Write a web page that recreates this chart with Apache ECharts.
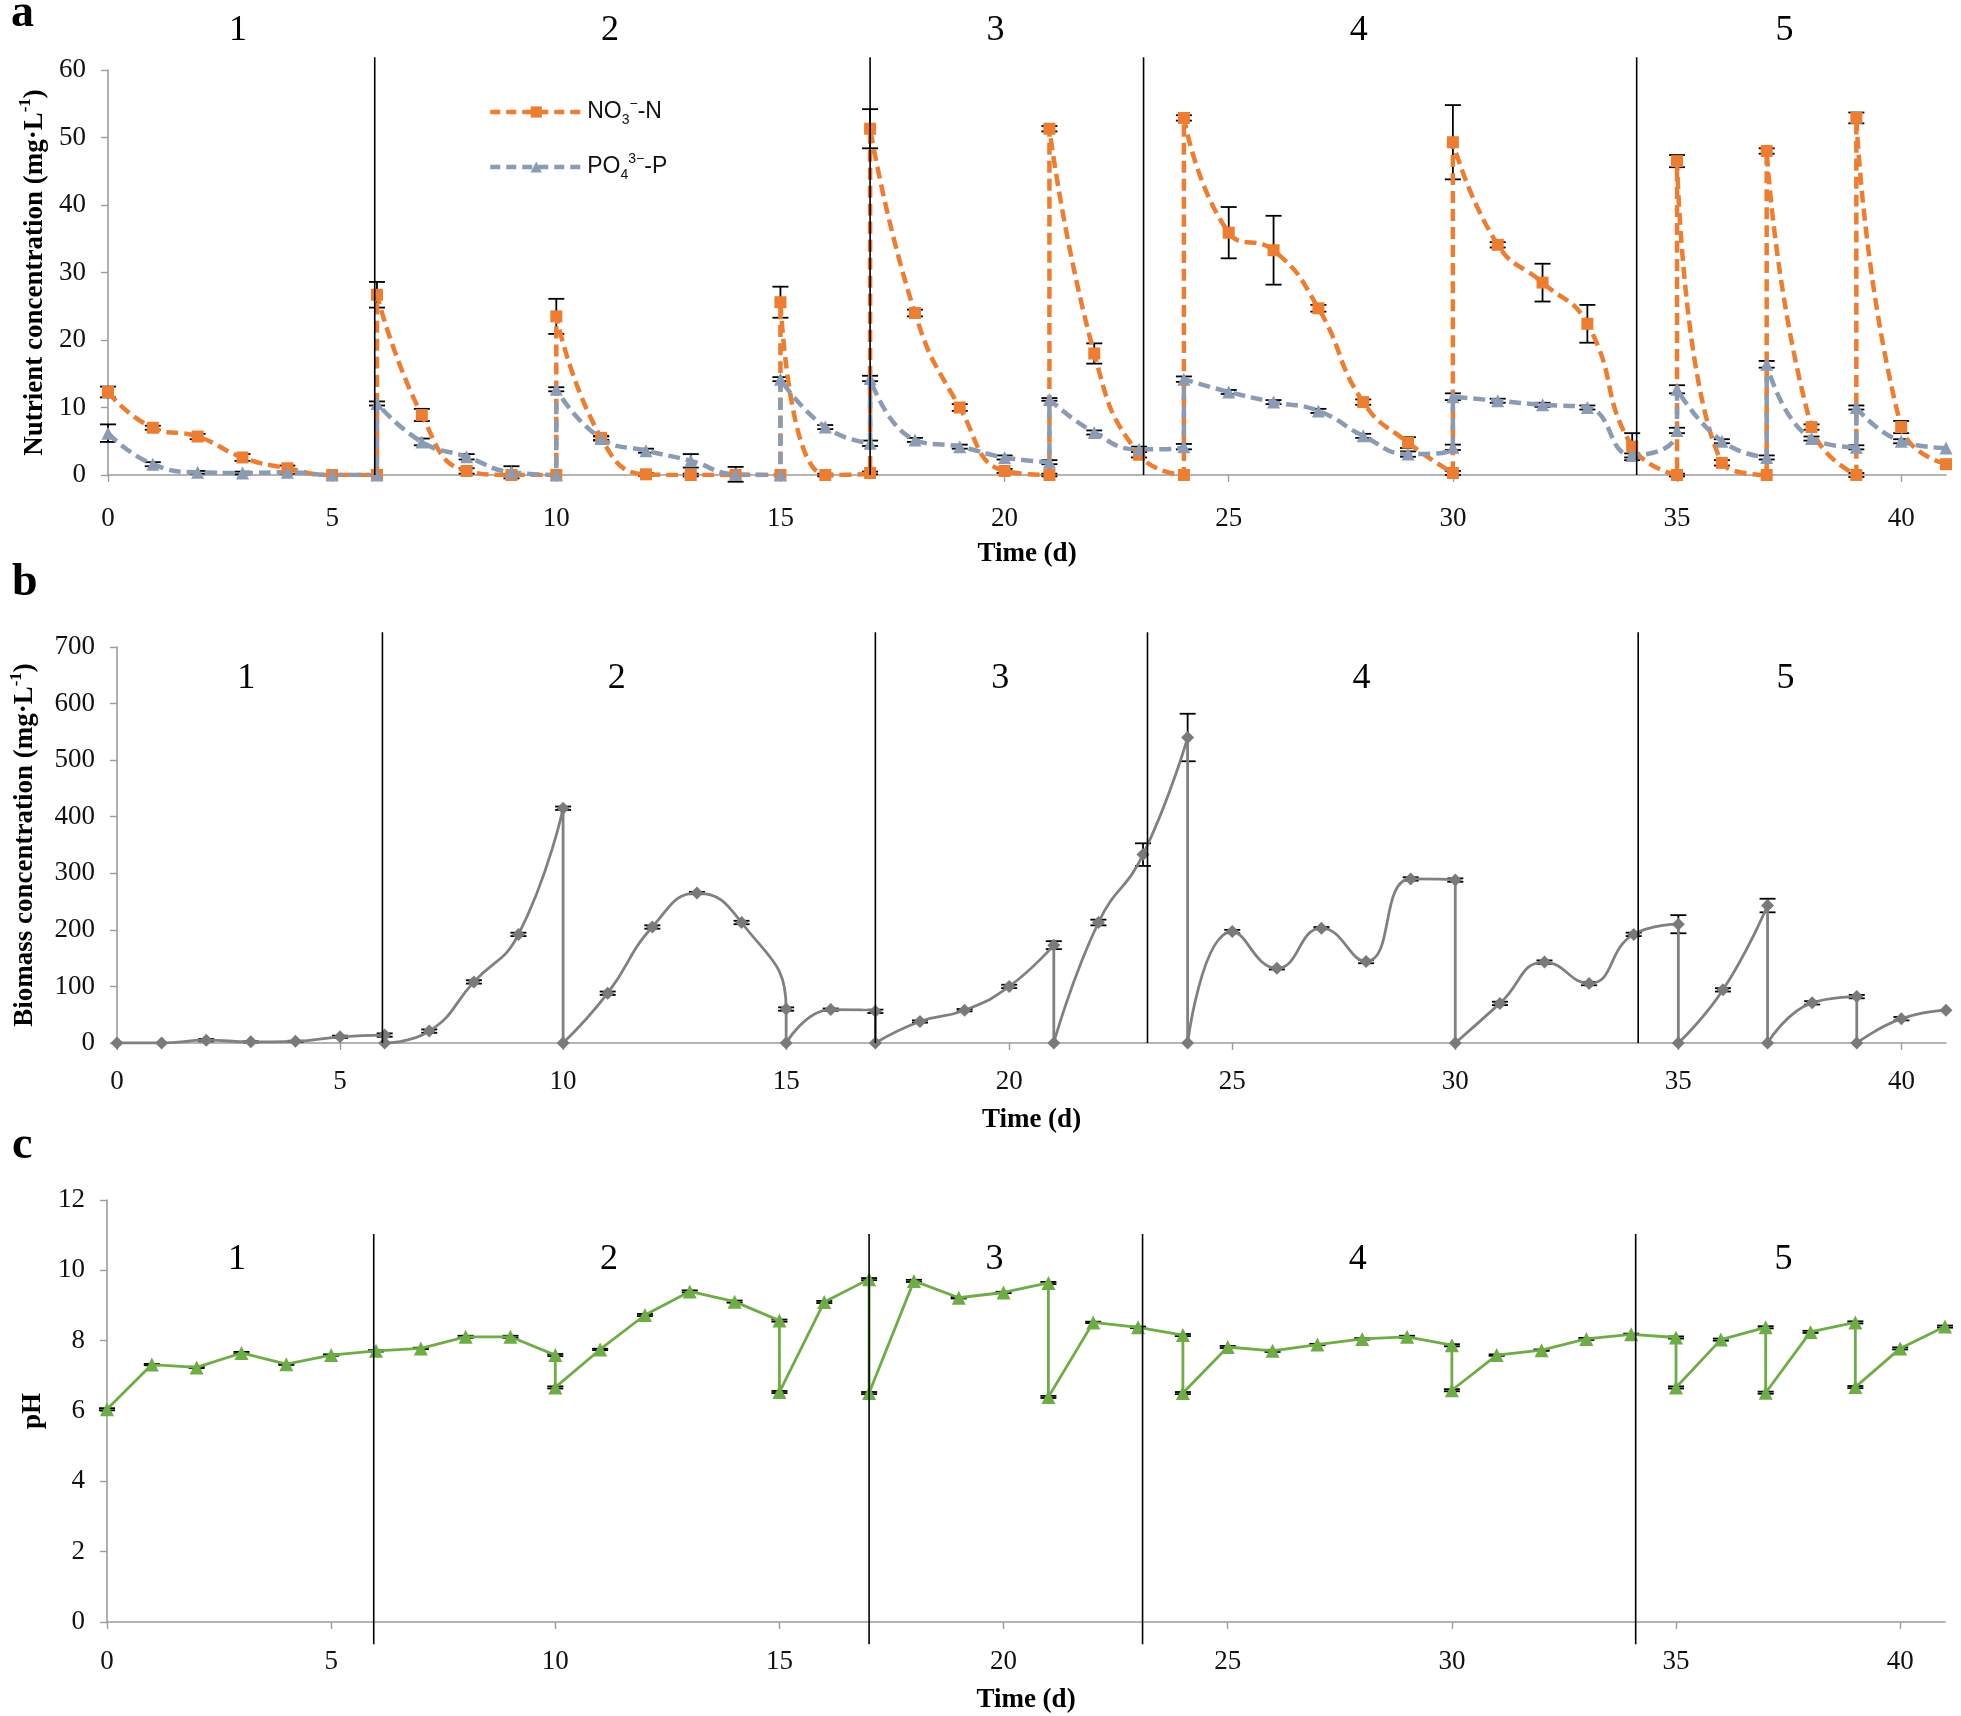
<!DOCTYPE html>
<html><head><meta charset="utf-8">
<script src="https://cdn.jsdelivr.net/npm/echarts@6/dist/echarts.min.js"></script>
<style>html,body{margin:0;padding:0;background:#fff}#c{width:1961px;height:1716px}</style>
</head><body><div id="c"></div>
<script>
// ---------- data ----------
const stageBounds = [5.95, 17, 23.1, 34.1];
const stageLabels = ['1', '2', '3', '4', '5'];
const stageLabelX = [2.9, 11.2, 19.8, 27.9, 37.4];
const xTicks = [0, 5, 10, 15, 20, 25, 30, 35, 40];

const sampleDays = [0,1,2,3,4,5,6,6,7,8,9,10,10,11,12,13,14,15,15,16,17,17,18,19,20,21,21,22,23,24,24,25,26,27,28,29,30,30,31,32,33,34,35,35,36,37,37,38,39,39,40,41];

const no3Vals = [12.3,7.0,5.7,2.6,1.0,0,0,26.7,8.9,0.6,0,0,23.5,5.5,0.1,0,0,0,25.6,0,0.3,51.3,24.0,10.0,0.6,0,51.3,18.0,3.0,0,52.9,35.9,33.3,24.7,10.8,4.8,0.3,49.3,34.1,28.5,22.4,4.2,0,46.5,1.8,0,48.0,7.1,0,52.9,7.1,1.6];
const no3Sd   = [0.8,0.3,0.4,0.5,0.4,0,0,1.9,0.9,0.4,0,0,2.6,0.3,0.2,0.2,0,0,2.3,0.2,0.2,2.9,0.5,0.5,0.3,0.2,0.4,1.5,0.4,0,0.4,3.8,5.1,0.5,0.4,0.8,0.3,5.5,0.4,2.8,2.8,2.0,0.2,0.9,0.4,0,0.4,0.4,0.3,0.8,0.9,0];

const po4Vals = [6.2,1.6,0.4,0.3,0.4,0,0,10.6,4.9,2.7,0.4,0,12.7,5.4,3.6,2.1,0.1,0,14.2,7.1,4.7,14.3,5.2,4.2,2.6,1.9,11.2,6.3,3.8,4.2,14.2,12.3,10.8,9.5,5.8,3.1,4.1,11.6,11.0,10.4,10.0,2.9,6.6,12.7,5.0,2.6,16.4,5.4,4.1,10.0,5.0,4.0];
const po4Sd   = [1.3,0.3,0.2,0.2,0.2,0,0,0.3,0.5,0.4,0.9,0,0.3,0.3,0.3,1.0,1.1,0,0.3,0.3,0.4,0.4,0.3,0.3,0.3,0.3,0.2,0.3,0.4,0.4,0.4,0.3,0.3,0.3,0.3,0.4,0.4,0.5,0.3,0.3,0.3,0.3,0.4,0.6,0.3,0.3,0.5,0.3,0.3,0.3,0.3,0];

const biomassVals = [0,0,5,2,3,11,14,0,21,108,192,415,0,88,205,265,213,60,0,59,56,0,38,58,100,173,0,213,333,540,0,197,132,203,144,290,288,0,70,143,105,192,210,0,94,243,0,71,82,0,43,58];
const biomassSd   = [0,0,2,1,1,2,3,0,3,3,3,3,0,3,3,2,3,3,0,2,3,0,2,2,3,7,0,5,20,42,0,3,2,2,3,3,3,0,3,3,3,3,16,0,3,12,0,3,3,0,3,0];

const phDays = [0,1,2,3,4,5,6,7,8,9,10,10,11,12,13,14,15,15,16,17,17,18,19,20,21,21,22,23,24,24,25,26,27,28,29,30,30,31,32,33,34,35,35,36,37,37,38,39,39,40,41];
const phVals = [6.05,7.32,7.24,7.65,7.33,7.59,7.71,7.78,8.11,8.11,7.59,6.67,7.75,8.73,9.40,9.11,8.57,6.54,9.10,9.75,6.51,9.70,9.22,9.37,9.64,6.40,8.52,8.38,8.16,6.51,7.82,7.71,7.89,8.05,8.11,7.87,6.59,7.59,7.73,8.05,8.18,8.09,6.67,8.03,8.38,6.52,8.25,8.52,6.68,7.78,8.40];
const phSd   = [0.03,0.02,0.02,0.03,0.02,0.02,0.02,0.02,0.03,0.03,0.03,0.03,0.02,0.03,0.03,0.03,0.03,0.03,0.03,0.03,0.03,0.03,0.02,0.02,0.03,0.03,0.02,0.02,0.03,0.03,0.03,0.03,0.02,0.02,0.03,0.03,0.03,0.02,0.02,0.03,0.02,0.03,0.03,0.03,0.03,0.03,0.03,0.03,0.03,0.03,0.03];

// ---------- helpers ----------
const SERIF = '"Liberation Serif", "Times New Roman", serif';
const SANS = '"Liberation Sans", Arial, sans-serif';
const AXIS_GRAY = '#9c9c9c';

function pairs(xs, ys) { return xs.map((x, i) => [x, ys[i]]); }

function vlines(gi, yTop, yBot) {
  return {
    type: 'custom', xAxisIndex: gi, yAxisIndex: gi, clip: false, silent: true, z: 6,
    data: stageBounds.map(v => [v, 0]), encode: { x: 0, y: 1 },
    renderItem(params, api) {
      const a = api.coord([api.value(0), yTop]);
      const b = api.coord([api.value(0), yBot]);
      return { type: 'line', shape: { x1: a[0], y1: a[1], x2: b[0], y2: b[1] },
        style: { stroke: '#000', lineWidth: 1.6 } };
    }
  };
}
function stageText(gi, yVal) {
  return {
    type: 'custom', xAxisIndex: gi, yAxisIndex: gi, clip: false, silent: true, z: 6,
    data: stageLabelX.map(v => [v, 0]), encode: { x: 0, y: 1 },
    renderItem(params, api) {
      const p = api.coord([api.value(0), yVal]);
      return { type: 'text', x: p[0], y: p[1],
        style: { text: stageLabels[params.dataIndex], font: '36px ' + SERIF, fill: '#000',
          align: 'center', verticalAlign: 'middle' } };
    }
  };
}
function errBars(gi, xs, ys, sds) {
  const data = [];
  xs.forEach((x, i) => { if (sds[i] > 0) data.push([x, ys[i] - sds[i], ys[i] + sds[i]]); });
  return {
    type: 'custom', xAxisIndex: gi, yAxisIndex: gi, clip: false, silent: true, z: 2,
    data, encode: { x: 0, y: [1, 2] },
    renderItem(params, api) {
      const lo = api.coord([api.value(0), api.value(1)]);
      const hi = api.coord([api.value(0), api.value(2)]);
      const w = 8;
      const st = { stroke: '#000', lineWidth: 1.8 };
      return { type: 'group', children: [
        { type: 'line', shape: { x1: lo[0], y1: lo[1], x2: hi[0], y2: hi[1] }, style: st },
        { type: 'line', shape: { x1: lo[0] - w, y1: lo[1], x2: lo[0] + w, y2: lo[1] }, style: st },
        { type: 'line', shape: { x1: hi[0] - w, y1: hi[1], x2: hi[0] + w, y2: hi[1] }, style: st }
      ] };
    }
  };
}
function xAx(gi, gap, margin) {
  return {
    type: 'value', gridIndex: gi, min: 0, max: 41, interval: 5,
    axisLine: { show: true, onZero: false, lineStyle: { color: AXIS_GRAY, width: 1.6 } },
    axisTick: { show: true, length: 7, customValues: xTicks, lineStyle: { color: AXIS_GRAY, width: 1.4 } },
    axisLabel: { customValues: xTicks, margin, fontSize: 27, fontFamily: SERIF, color: '#111' },
    splitLine: { show: false },
    name: 'Time (d)', nameLocation: 'middle', nameGap: gap,
    nameTextStyle: { fontSize: 27, fontWeight: 'bold', fontFamily: SERIF, color: '#000' }
  };
}
function yAx(gi, max, interval, name, gap) {
  return {
    type: 'value', gridIndex: gi, min: 0, max, interval,
    axisLine: { show: true, lineStyle: { color: AXIS_GRAY, width: 1.6 } },
    axisTick: { show: true, length: 7, lineStyle: { color: AXIS_GRAY, width: 1.4 } },
    axisLabel: { margin: 22, fontSize: 27, fontFamily: SERIF, color: '#111' },
    splitLine: { show: false },
    name, nameLocation: 'middle', nameGap: gap,
    nameTextStyle: { fontSize: 27, fontWeight: 'bold', fontFamily: SERIF, color: '#000',
      rich: {
        t: { fontSize: 27, fontWeight: 'bold', fontFamily: SERIF, color: '#000', lineHeight: 34 },
        s: { fontSize: 17, fontWeight: 'bold', fontFamily: SERIF, color: '#000', lineHeight: 17, verticalAlign: 'top' }
      } }
  };
}

const legendText = {
  'NO3-N': '{n|NO}{sb|3}{sp|−}{n|-N}',
  'PO4-P': '{n|PO}{sb|4}{sp|3−}{n|-P}'
};
const legendRich = {
  n: { fontSize: 23, fontFamily: SANS, color: '#111', lineHeight: 30 },
  sb: { fontSize: 14, fontFamily: SANS, color: '#111', lineHeight: 16, verticalAlign: 'bottom' },
  sp: { fontSize: 14, fontFamily: SANS, color: '#111', lineHeight: 16, verticalAlign: 'top' }
};
function legendFor(name, top) {
  return {
    data: [name], left: 488, top, orient: 'vertical', padding: 0,
    itemWidth: 92, itemHeight: 14, selectedMode: false,
    lineStyle: { width: 4.5, type: [10, 6] },
    formatter: n => legendText[n], textStyle: { rich: legendRich }
  };
}

const ORANGE = '#ED7D31';
const BLUEGRAY = '#8A9BB3';
const GREEN = '#6EAC45';

const chart = echarts.init(document.getElementById('c'), null, { renderer: 'canvas' });
chart.setOption({
  animation: false,
  backgroundColor: '#fff',
  grid: [
    { left: 108, top: 70, width: 1838, height: 405 },
    { left: 108, top: 647, width: 1838, height: 396 },
    { left: 107, top: 1200, width: 1838, height: 422 }
  ],
  xAxis: [xAx(0, 66, 30), xAx(1, 64, 25), xAx(2, 65, 26)],
  yAxis: [
    yAx(0, 60, 10, '{t|Nutrient concentration (mg·L}{s|-1}{t|)}', 56),
    yAx(1, 700, 100, '{t|Biomass concentration (mg·L}{s|-1}{t|)}', 75),
    yAx(2, 12, 2, '{t|pH}', 57)
  ],
  legend: [legendFor('NO3-N', 97), legendFor('PO4-P', 152)],
  graphic: [
    { type: 'text', x: 11, y: 14, style: { text: 'a', font: 'bold 46px ' + SERIF, fill: '#000', verticalAlign: 'middle' } },
    { type: 'text', x: 12, y: 583, style: { text: 'b', font: 'bold 46px ' + SERIF, fill: '#000', verticalAlign: 'middle' } },
    { type: 'text', x: 12, y: 1146, style: { text: 'c', font: 'bold 46px ' + SERIF, fill: '#000', verticalAlign: 'middle' } }
  ],
  series: [
    {
      type: 'line', name: 'NO3-N', xAxisIndex: 0, yAxisIndex: 0,
      data: pairs(sampleDays, no3Vals), smooth: 0.5,
      symbol: 'rect', symbolSize: 12,
      lineStyle: { color: ORANGE, width: 4.5, type: [12, 6] },
      itemStyle: { color: ORANGE }, z: 3
    },
    {
      type: 'line', name: 'PO4-P', xAxisIndex: 0, yAxisIndex: 0,
      data: pairs(sampleDays, po4Vals), smooth: 0.5,
      symbol: 'triangle', symbolSize: 13,
      lineStyle: { color: BLUEGRAY, width: 4.5, type: [12, 6] },
      itemStyle: { color: BLUEGRAY }, z: 3
    },
    errBars(0, sampleDays, no3Vals, no3Sd),
    errBars(0, sampleDays, po4Vals, po4Sd),
    vlines(0, 61.9, 0),
    stageText(0, 65.9),
    {
      type: 'line', name: 'Biomass', xAxisIndex: 1, yAxisIndex: 1,
      data: pairs(sampleDays, biomassVals), smooth: 0.5,
      symbol: 'diamond', symbolSize: 13,
      lineStyle: { color: '#808080', width: 2.8 },
      itemStyle: { color: '#7a7a7a' }, z: 3
    },
    errBars(1, sampleDays, biomassVals, biomassSd),
    vlines(1, 726, 0),
    stageText(1, 645),
    {
      type: 'line', name: 'pH', xAxisIndex: 2, yAxisIndex: 2,
      data: pairs(phDays, phVals), smooth: false,
      symbol: 'triangle', symbolSize: 14,
      lineStyle: { color: GREEN, width: 2.8 },
      itemStyle: { color: GREEN }, z: 3
    },
    errBars(2, phDays, phVals, phSd),
    vlines(2, 11.03, -0.63),
    stageText(2, 10.32)
  ]
});
</script>
</body></html>
